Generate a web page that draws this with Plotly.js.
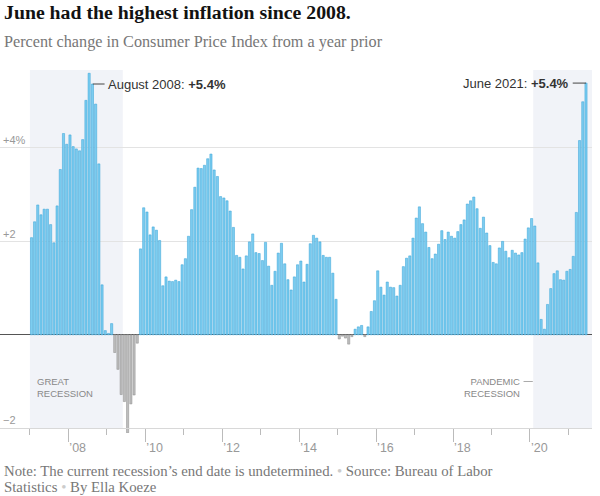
<!DOCTYPE html>
<html>
<head>
<meta charset="utf-8">
<script src="https://cdn.plot.ly/plotly-3.0.1.min.js"></script>
<style>
  html, body { margin: 0; padding: 0; background: #fff; }
  #chart { width: 600px; height: 496px; }
</style>
</head>
<body>
<div id="chart"></div>
<script>
// ---- Data: CPI-U, percent change from a year prior, monthly ----
const startYear = 2007;
const cpi2007 = [2.08, 2.42, 2.78, 2.57, 2.69, 2.69, 2.36, 1.97, 2.76, 3.54, 4.31, 4.08];
const cpi2008 = [4.28, 4.03, 3.98, 3.94, 4.18, 5.02, 5.60, 5.37, 4.94, 3.66, 1.07, 0.09];
const cpi2009 = [0.03, 0.24, -0.38, -0.74, -1.28, -1.43, -2.10, -1.48, -1.29, -0.18, 1.84, 2.72];
const cpi2010 = [2.63, 2.14, 2.31, 2.24, 2.02, 1.05, 1.24, 1.15, 1.14, 1.17, 1.14, 1.50];
const cpi2011 = [1.63, 2.11, 2.68, 3.16, 3.57, 3.56, 3.63, 3.77, 3.87, 3.53, 3.39, 2.96];
const cpi2012 = [2.93, 2.87, 2.65, 2.30, 1.70, 1.66, 1.41, 1.69, 1.99, 2.16, 1.76, 1.74];
const cpi2013 = [1.59, 1.98, 1.47, 1.06, 1.36, 1.75, 1.96, 1.52, 1.18, 0.96, 1.24, 1.50];
const cpi2014 = [1.58, 1.13, 1.51, 1.95, 2.13, 2.07, 1.99, 1.70, 1.66, 1.66, 1.32, 0.76];
const cpi2015 = [-0.09, -0.03, -0.07, -0.20, -0.04, 0.12, 0.17, 0.20, -0.04, 0.17, 0.50, 0.73];
const cpi2016 = [1.37, 1.02, 0.85, 1.13, 1.02, 1.01, 0.83, 1.06, 1.46, 1.64, 1.69, 2.07];
const cpi2017 = [2.50, 2.74, 2.38, 2.20, 1.87, 1.63, 1.73, 1.94, 2.23, 2.04, 2.20, 2.11];
const cpi2018 = [2.07, 2.21, 2.36, 2.46, 2.80, 2.87, 2.95, 2.70, 2.28, 2.52, 2.18, 1.91];
const cpi2019 = [1.55, 1.52, 1.86, 2.00, 1.79, 1.65, 1.81, 1.75, 1.71, 1.76, 2.05, 2.29];
const cpi2020 = [2.49, 2.33, 1.54, 0.33, 0.12, 0.65, 0.99, 1.31, 1.37, 1.18, 1.17, 1.36];
const cpi2021 = [1.40, 1.68, 2.62, 4.16, 4.99, 5.39];

const yearSeries = [cpi2007, cpi2008, cpi2009, cpi2010, cpi2011, cpi2012, cpi2013,
  cpi2014, cpi2015, cpi2016, cpi2017, cpi2018, cpi2019, cpi2020, cpi2021];

// Tick labels
const majorTickDates = ['2008-01-01', '2010-01-01', '2012-01-01', '2014-01-01', '2016-01-01', '2018-01-01', '2020-01-01'];
const majorTickLabels = ['\u201908', '\u201910', '\u201912', '\u201914', '\u201916', '\u201918', '\u201920'];
const minorTickDates = ['2007-01-01', '2009-01-01', '2011-01-01', '2013-01-01', '2015-01-01', '2017-01-01', '2019-01-01', '2021-01-01'];
const yTickVals = [-2, 2, 4];
const yTickText = ['\u22122', '+2', '+4%'];

// Recessions
const recessions = [
  { start: '2007-01-01', end: '2009-06-01' },
  { start: '2020-02-01', end: '2021-08-12' }
];

// Callouts
const calloutAug = { date: '2008-08-16', value: 5.37, label: 'August 2008: ', valueText: '+5.4%' };
const calloutJun = { date: '2021-06-16', value: 5.39, label: 'June 2021: ', valueText: '+5.4%' };

// ---- Build month list ----
const months = [];
const values = [];
yearSeries.forEach((arr, yi) => {
  arr.forEach((v, mi) => {
    const y = startYear + yi;
    const m = String(mi + 1).padStart(2, '0');
    months.push(y + '-' + m + '-01');
    values.push(v);
  });
});

const fillColors = values.map(v => v >= 0 ? '#7ccdf0' : '#bdbdbd');
const lineColors = values.map(v => v >= 0 ? '#35a0d6' : '#8d8d8d');

// ---- Layout geometry ----
const W = 600, Hfig = 496;
const mL = 0, mR = 8, mT = 70, mB = 63;
const PH = Hfig - mT - mB;
const PW = W - mL - mR;
const yMax = 5.67;
const pxPerUnit = 46.7;
const yMin = yMax - PH / pxPerUnit;
const axisPos = (-2 - yMin) / (yMax - yMin);

function py(pix) { return (mT + PH - pix) / PH; }
function pxX(pix) { return (pix - mL) / PW; }

const trace = {
  type: 'bar',
  x: months,
  y: values,
  xperiod: 'M1',
  xperiodalignment: 'middle',
  marker: { color: fillColors, line: { color: lineColors, width: 0.5 } },
  hoverinfo: 'skip'
};

const shapes = [];
recessions.forEach(r => {
  shapes.push({
    type: 'rect', layer: 'below',
    xref: 'x', yref: 'y',
    x0: r.start, x1: r.end,
    y0: -2, y1: yMax,
    fillcolor: '#f1f3f8', line: { width: 0 }
  });
});
// Leader lines
shapes.push({ type: 'line', layer: 'above', xref: 'x', yref: 'y',
  x0: '2008-08-20', x1: '2008-12-10', y0: calloutAug.value, y1: calloutAug.value,
  line: { color: '#444', width: 1 } });
shapes.push({ type: 'line', layer: 'above', xref: 'x', yref: 'y',
  x0: '2021-02-10', x1: calloutJun.date, y0: calloutJun.value, y1: calloutJun.value,
  line: { color: '#444', width: 1 } });
shapes.push({ type: 'line', layer: 'above', xref: 'x', yref: 'y',
  x0: '2019-11-01', x1: '2020-01-28', y0: -1.0, y1: -1.0,
  line: { color: '#aaa', width: 1 } });

const sans = 'Liberation Sans, Arial, sans-serif';
const serif = 'Liberation Serif, Times New Roman, serif';
const dot = '<span style="color:#ccc">\u2022</span>';

const annotations = [
  { xref: 'paper', yref: 'paper', x: pxX(2), y: py(12), xanchor: 'left', yanchor: 'middle',
    text: '<b>June had the highest inflation since 2008.</b>', showarrow: false,
    font: { family: serif, size: 19.8, color: '#121212' } },
  { xref: 'paper', yref: 'paper', x: pxX(2), y: py(42), xanchor: 'left', yanchor: 'middle',
    text: 'Percent change in Consumer Price Index from a year prior', showarrow: false,
    font: { family: serif, size: 16.2, color: '#777' } },
  { xref: 'paper', yref: 'paper', x: pxX(2), y: py(471), xanchor: 'left', yanchor: 'middle', align: 'left',
    text: 'Note: The current recession\u2019s end date is undetermined. ' + dot + ' Source: Bureau of Labor',
    showarrow: false, font: { family: serif, size: 14.8, color: '#777' } },
  { xref: 'paper', yref: 'paper', x: pxX(2), y: py(487.5), xanchor: 'left', yanchor: 'middle', align: 'left',
    text: 'Statistics ' + dot + ' By Ella Koeze',
    showarrow: false, font: { family: serif, size: 14.8, color: '#777' } },
  { xref: 'x', yref: 'y', x: '2008-12-20', y: calloutAug.value, xanchor: 'left', yanchor: 'middle',
    text: calloutAug.label + '<b>' + calloutAug.valueText + '</b>', showarrow: false,
    font: { family: sans, size: 13, color: '#333' } },
  { xref: 'x', yref: 'y', x: '2021-01-25', y: calloutJun.value, xanchor: 'right', yanchor: 'middle',
    text: calloutJun.label + '<b>' + calloutJun.valueText + '</b>', showarrow: false,
    font: { family: sans, size: 13, color: '#333' } },
  { xref: 'x', yref: 'y', x: '2007-02-20', y: -1.13, xanchor: 'left', yanchor: 'middle', align: 'left',
    text: 'GREAT<br>RECESSION', showarrow: false,
    font: { family: sans, size: 9.5, color: '#888' } },
  { xref: 'x', yref: 'y', x: '2019-10-20', y: -1.13, xanchor: 'right', yanchor: 'middle', align: 'right',
    text: 'PANDEMIC<br>RECESSION', showarrow: false,
    font: { family: sans, size: 9.5, color: '#888' } }
];

const layout = {
  width: W, height: Hfig,
  margin: { l: mL, r: mR, t: mT, b: mB, pad: 0 },
  paper_bgcolor: '#fff', plot_bgcolor: 'rgba(0,0,0,0)',
  showlegend: false,
  bargap: 0.3,
  xaxis: {
    type: 'date',
    range: ['2006-03-23', '2021-08-12'],
    anchor: 'free', position: axisPos,
    showgrid: false, zeroline: false,
    showline: true, linecolor: '#d8d8d8', linewidth: 1,
    tickmode: 'array', tickvals: majorTickDates, ticktext: majorTickLabels,
    ticks: 'outside', ticklen: 13, tickcolor: '#bbb', tickwidth: 1,
    ticklabelposition: 'outside right',
    ticklabelstandoff: 8,
    tickfont: { family: sans, size: 12.5, color: '#999' },
    minor: { tickmode: 'array', tickvals: minorTickDates, ticks: 'outside', ticklen: 6, tickcolor: '#bbb', tickwidth: 1, showgrid: false },
    fixedrange: true
  },
  yaxis: {
    range: [yMin, yMax],
    tickmode: 'array', tickvals: yTickVals, ticktext: yTickText,
    ticklabelposition: 'inside top',
    tickfont: { family: sans, size: 11, color: '#999' },
    showgrid: true, gridcolor: '#e3e3e3', gridwidth: 1,
    zeroline: true, zerolinecolor: '#555', zerolinewidth: 1,
    showline: false, ticks: '',
    fixedrange: true
  },
  shapes: shapes,
  annotations: annotations
};

Plotly.newPlot('chart', [trace], layout, { displayModeBar: false, staticPlot: true });
</script>
</body>
</html>
